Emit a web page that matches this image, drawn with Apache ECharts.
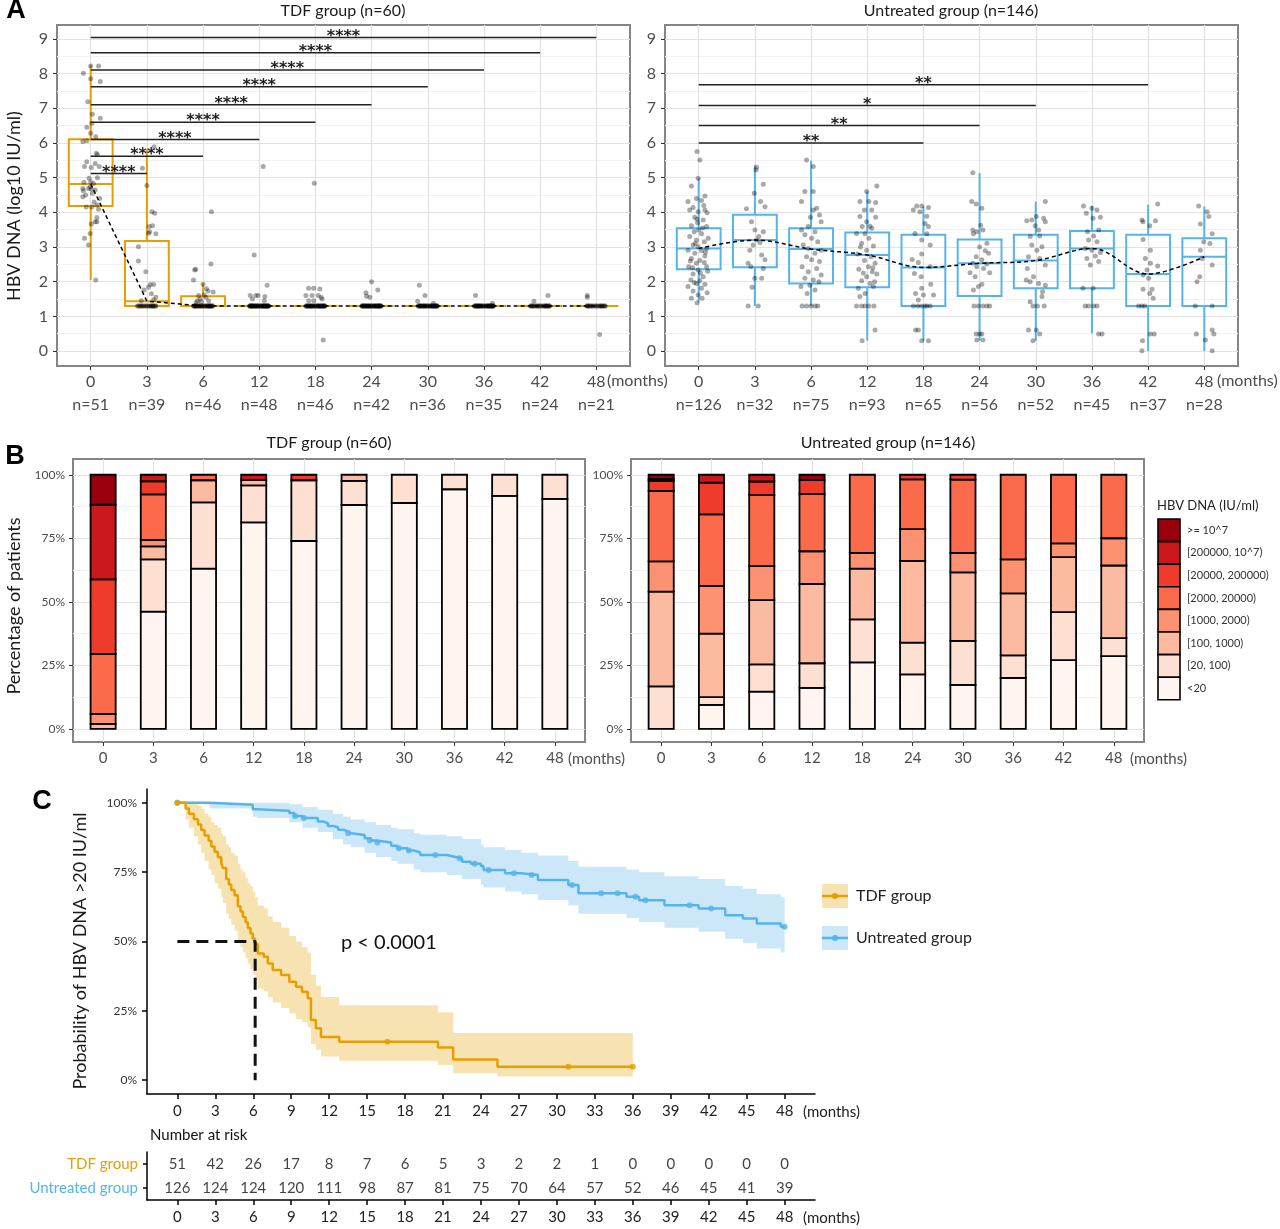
<!DOCTYPE html>
<html><head><meta charset="utf-8">
<script src="https://cdn.jsdelivr.net/npm/echarts@6/dist/echarts.min.js"></script>
<style>html,body{margin:0;padding:0;background:#fff}#c{width:1280px;height:1229px}</style>
</head><body><div id="c"></div>
<script>
// ---------------- DATA ----------------
const MONTHS = ['0','3','6','12','18','24','30','36','42','48'];
const CAT_TICKS = [0,1,2,3,4,5,6,7,8,9];
const TDF_N = [51,39,46,48,46,42,36,35,24,21];
const UNT_N = [126,32,75,93,65,56,52,45,37,28];
const Y_TICKS_A = [0,1,2,3,4,5,6,7,8,9];
const Y_MINOR_A = [0.5,1.5,2.5,3.5,4.5,5.5,6.5,7.5,8.5];
const PCT_TICKS = [0,25,50,75,100];
const PCT_MINOR = [12.5,37.5,62.5,87.5];
const KM_TICKS = [0,3,6,9,12,15,18,21,24,27,30,33,36,39,42,45,48];

// box stats: [low whisker, Q1, median, Q3, high whisker] (log10 IU/ml)
const TDF_BOX = [[2.05,4.18,4.82,6.11,8.25],[1.3,1.3,1.44,3.17,5.8],[1.3,1.3,1.3,1.58,1.95],[1.3,1.3,1.3,1.3,1.3],[1.3,1.3,1.3,1.3,1.3],[1.3,1.3,1.3,1.3,1.3],[1.3,1.3,1.3,1.3,1.3],[1.3,1.3,1.3,1.3,1.3],[1.3,1.3,1.3,1.3,1.3],[1.3,1.3,1.3,1.3,1.3]];
const UNT_BOX = [[1.42,2.36,2.96,3.54,4.99],[1.3,2.42,3.2,3.93,5.35],[1.3,1.95,2.94,3.54,5.49],[0.3,1.84,2.77,3.42,4.6],[0.3,1.3,2.41,3.35,4.17],[0.3,1.59,2.53,3.22,5.13],[0.3,1.81,2.61,3.35,4.31],[0.51,1.81,2.96,3.46,4.19],[0,1.3,2.22,3.35,4.22],[0,1.3,2.72,3.25,4.17]];

// jittered individual points per visit: [x offset, log10 value]
const TDF_PTS = [
 [[0,8.22],[0.14,8.22],[-0.13,8.01],[0,7.85],[0.17,7.77],[-0.05,7.19],[0.03,6.83],[0.17,6.71],[0.02,6.57],[-0.07,6.45],[0,6.28],[0.09,6.18],[-0.07,6.06],[-0.14,6.04],[0.1,5.7],[0.12,5.66],[-0.07,5.46],[0.08,5.41],[-0.11,5.32],[0.15,5.32],[0.01,5.29],[0,4.88],[0.05,4.83],[-0.04,4.69],[-0.14,4.69],[0.01,4.67],[0.08,4.64],[-0.13,4.62],[-0.14,4.45],[-0.01,4.73],[0.11,4.21],[-0.08,4.15],[0.02,4.15],[0.14,4.09],[0.11,3.85],[0.08,3.73],[0.11,3.73],[0.01,3.66],[-0.01,3.39],[-0.11,3.25],[-0.04,3.06],[0.09,2.05],[0.03,4.55],[-0.09,4.5],[0.12,5.0],[-0.03,4.98],[0.06,4.3],[-0.12,4.87],[0.16,4.4]],
 [[0.13,5.89],[-0.08,5.27],[0,4.77],[0.09,4.02],[0.14,3.97],[0.04,3.59],[0.1,3.61],[0.05,3.44],[0.03,3.4],[0.16,3.38],[-0.15,3.01],[-0.15,2.6],[-0.02,2.29],[0.06,1.92],[0.12,1.92],[0.03,1.84],[-0.05,1.76],[0.08,1.65],[0.16,1.55],[-0.1,1.45],[0.12,1.48]],
 [[-0.15,2.34],[-0.13,2.36],[-0.17,2.05],[0.14,2.51],[0.15,4.02],[0,1.93],[0.09,1.73],[0.18,1.7],[-0.08,1.6],[-0.05,1.5],[0.05,1.55],[-0.1,1.45],[0.02,1.62],[-0.12,1.4],[0.1,1.45],[0.06,1.8],[-0.03,1.42]],
 [[0.07,5.32],[-0.09,2.77],[0.14,1.9],[-0.16,1.6],[-0.06,1.6],[-0.02,1.6],[0.1,1.57],[0.09,1.45],[-0.12,1.5]],
 [[-0.02,4.84],[0.14,0.32],[-0.12,1.81],[-0.03,1.81],[0.08,1.79],[-0.17,1.6],[-0.06,1.6],[0.05,1.6],[-0.03,1.45],[0.12,1.5],[-0.12,1.45],[0.1,1.55]],
 [[0,2.0],[-0.1,1.68],[-0.09,1.58],[-0.03,1.55],[0.11,1.76]],
 [[-0.15,1.9],[-0.05,1.6],[-0.18,1.44],[0.1,1.38]],
 [[-0.15,1.6],[0.15,1.38]],
 [[-0.11,1.44],[0.14,1.6]],
 [[-0.16,1.6],[-0.16,1.55],[0.06,0.48]]
];
// number of TDF points sitting at the detection limit (log10 20 = 1.3)
const TDF_LOD_COUNT = [0,18,29,39,34,37,32,33,22,19];
const LOD_VALUE = 1.3;
const LOD_JITTER = [-0.17,0.05,-0.09,0.13,-0.02,0.16,-0.13,0.08,-0.05,0.11,-0.15,0.02,0.15,-0.07,0.1,-0.11,0.0,0.07,-0.16,0.12,-0.04,0.17,-0.12,0.04,-0.08,0.14,-0.01,0.09,-0.14,0.06,-0.06,0.16,-0.1,0.03,-0.17,0.12,-0.03,0.08,-0.13,0.01];

const UNT_PTS = [
 [[-0.03,5.75],[0.02,5.51],[-0.01,4.98],[-0.13,4.76],[0.11,4.47],[-0.04,4.4],[-0.19,4.31],[0.05,4.34],[-0.1,4.14],[-0.16,4.07],[0.11,4.07],[-0.01,4.02],[0.15,3.99],[-0.07,3.86],[-0.03,3.8],[0.08,3.78],[-0.13,3.61],[0.14,3.59],[0,3.49],[-0.08,3.44],[0.05,3.38],[-0.16,3.3],[0.17,3.25],[-0.04,3.2],[0.1,3.15],[-0.1,3.06],[-0.01,3.01],[0.14,2.96],[-0.19,2.91],[0.05,2.89],[-0.07,2.82],[0.11,2.74],[-0.13,2.67],[0.02,2.61],[0.1,2.55],[-0.04,2.53],[-0.18,2.43],[0.14,2.43],[-0.01,2.34],[-0.1,2.22],[0.08,2.14],[-0.14,2.05],[0.02,2.03],[-0.04,1.95],[0.11,1.93],[-0.19,1.86],[0.05,1.81],[-0.1,1.73],[0.15,1.68],[-0.01,1.62],[-0.13,1.52],[0.06,1.52],[-0.03,1.39],[0.07,3.55],[-0.06,3.1],[0.12,2.85],[-0.15,2.6],[0.03,2.25],[-0.08,1.98],[0.16,2.3],[-0.02,3.7],[0.09,4.2],[-0.11,2.4]],
 [[0.03,5.3],[0.02,5.22],[0.15,4.81],[-0.01,4.55],[0.1,4.31],[-0.15,4.1],[0.18,4.16],[-0.06,3.73],[0.15,3.44],[0.03,3.2],[0.09,3.13],[-0.03,3.06],[0.12,2.77],[-0.12,2.53],[-0.07,2.43],[0.15,2.38],[0,2.1],[0.12,2.1],[-0.05,1.84],[-0.12,1.3],[0.06,1.3],[0,3.49],[0.07,3.3],[-0.09,2.91],[0.18,2.63]],
 [[-0.08,5.51],[0.04,5.32],[-0.11,4.6],[0.04,4.6],[-0.17,4.31],[0.1,4.12],[0.04,4.07],[0.15,3.92],[-0.01,3.86],[0.18,3.73],[-0.05,3.59],[-0.17,3.49],[0.07,3.44],[-0.11,3.35],[0.01,3.25],[0.12,3.15],[-0.14,3.06],[-0.05,2.96],[0.18,2.91],[0.07,2.82],[-0.08,2.72],[0.01,2.63],[0.15,2.58],[-0.16,2.43],[0.1,2.38],[-0.05,2.29],[0.18,2.19],[-0.11,2.1],[0.04,2.05],[0.14,2.0],[-0.02,1.9],[-0.18,1.86],[0.07,1.76],[-0.07,1.66],[-0.16,1.3],[-0.08,1.3],[0,1.3],[0.07,1.3],[0.12,1.3]],
 [[0.17,4.76],[-0.01,4.6],[-0.13,4.31],[0.03,4.31],[0.15,4.28],[-0.05,4.07],[0.08,4.07],[-0.13,3.88],[0.15,3.86],[-0.01,3.73],[-0.09,3.59],[0.08,3.54],[-0.19,3.39],[-0.04,3.38],[0.03,3.25],[-0.1,3.11],[0.11,3.03],[-0.01,2.91],[-0.17,2.8],[0.07,2.72],[-0.05,2.61],[0.14,2.53],[0.02,2.43],[-0.15,2.36],[0.09,2.29],[0.17,2.22],[-0.01,2.14],[-0.1,2.03],[0.05,1.95],[-0.16,1.81],[-0.04,1.66],[0.11,1.86],[-0.13,1.57],[-0.19,1.3],[-0.1,1.3],[-0.04,1.3],[0.03,1.3],[0.12,1.3],[0.14,0.61],[-0.09,0.3],[0.1,2.4],[-0.07,2.25],[0.13,2.0],[-0.12,3.0],[0.05,3.6]],
 [[-0.12,4.18],[-0.03,4.18],[0.09,4.14],[-0.18,4.07],[-0.06,4.02],[0.06,3.89],[0.03,3.68],[0.09,3.59],[-0.15,3.39],[0.06,3.38],[-0.03,3.2],[0.12,3.06],[-0.03,2.8],[-0.2,2.64],[-0.09,2.55],[0.12,2.43],[-0.16,2.24],[-0.04,2.14],[0.13,1.93],[-0.03,1.81],[-0.14,1.66],[0,1.62],[0.18,1.62],[-0.09,1.47],[-0.18,1.3],[-0.1,1.3],[-0.03,1.3],[0.06,1.3],[0.12,1.3],[0.03,1.3],[-0.14,0.61],[-0.09,0.61],[-0.03,0.3],[0.09,0.3]],
 [[-0.12,5.14],[-0.14,4.31],[-0.06,4.24],[0.04,4.12],[0.02,3.63],[-0.12,3.49],[-0.05,3.44],[0.06,3.49],[-0.11,3.38],[0.13,3.11],[0,3.0],[0.1,2.89],[0.16,2.82],[-0.06,2.72],[0.04,2.63],[-0.12,2.53],[0.13,2.51],[-0.05,2.43],[0.07,2.38],[-0.17,2.26],[0.18,2.26],[-0.08,2.14],[0.04,1.93],[-0.02,1.86],[-0.11,1.76],[-0.1,1.3],[-0.02,1.3],[0.06,1.3],[0.13,1.3],[0.18,1.3],[-0.06,0.49],[0,0.49],[0.04,0.49],[-0.05,0.32],[0.06,0.32]],
 [[0.17,4.31],[0.01,3.88],[-0.16,3.76],[-0.07,3.78],[0.14,3.83],[0.17,3.73],[-0.01,3.61],[0.05,3.49],[-0.1,3.3],[0.07,3.32],[-0.07,3.06],[0.11,3.01],[0.02,2.91],[-0.13,2.72],[0.07,2.67],[0.17,2.48],[-0.15,2.38],[-0.04,2.14],[-0.17,2.05],[-0.1,2.0],[0.05,1.95],[0.17,1.9],[0.12,1.71],[0.11,1.57],[-0.1,1.42],[-0.05,1.3],[0.03,1.3],[0.15,1.3],[-0.13,0.61],[0.01,0.61],[0.07,0.49],[-0.05,0.3]],
 [[-0.15,4.18],[0,4.12],[0.09,4.07],[-0.1,3.97],[0.15,3.86],[0.02,3.83],[0.12,3.49],[-0.08,3.44],[0.03,3.32],[-0.06,3.2],[0.09,3.15],[-0.12,2.96],[0,2.91],[0.15,2.84],[0.06,2.74],[-0.09,2.67],[0.12,2.58],[-0.03,2.48],[-0.16,1.81],[0.02,1.81],[-0.12,1.3],[-0.06,1.3],[0.03,1.3],[0.09,1.3],[0.12,0.49],[0.18,0.49]],
 [[0.17,4.24],[-0.11,3.78],[-0.09,3.73],[0.13,3.76],[0.03,3.61],[-0.09,3.22],[0.04,2.91],[-0.05,2.67],[0.04,2.53],[0.17,2.45],[-0.02,2.34],[-0.09,2.19],[0.01,2.1],[0.07,1.78],[-0.09,1.78],[0.03,1.66],[0.09,1.52],[-0.17,1.3],[-0.11,1.3],[-0.06,1.3],[0.04,0.49],[0.11,0.49],[-0.1,0.3],[-0.11,0.01]],
 [[-0.1,4.18],[0.05,4.02],[0.08,3.88],[-0.07,3.66],[0.14,3.38],[-0.01,3.15],[0.1,3.1],[-0.07,2.91],[-0.04,2.67],[0.14,2.48],[-0.08,2.14],[-0.13,2.0],[-0.16,1.3],[0.14,1.3],[-0.14,0.49],[0.14,0.61],[0.17,0.49],[0.02,0.32],[0.14,0.01]]
];

// significance brackets: [from visit index, to visit index, height]
const TDF_SIG = [[0,1,5.12],[0,2,5.62],[0,3,6.1],[0,4,6.6],[0,5,7.1],[0,6,7.62],[0,7,8.1],[0,8,8.6],[0,9,9.04]];
const TDF_SIG_LABEL = ['****','****','****','****','****','****','****','****','****'];
const UNT_SIG = [[0,4,6.0],[0,5,6.5],[0,6,7.08],[0,8,7.68]];
const UNT_SIG_LABEL = ['**','**','*','**'];

// Panel B: patient counts per HBV DNA level (bottom -> top), per visit
const LEVELS = ['<20','[20, 100)','[100, 1000)','[1000, 2000)','[2000, 20000)','[20000, 200000)','[200000, 10^7)','>= 10^7'];
const LEVEL_COLORS = ['#FFF5F0','#FEE0D2','#FCBBA1','#FC9272','#FB6A4A','#EF3B2C','#CB181D','#99000D'];
const TDF_LEVEL_COUNTS = [
 [0,18,29,39,34,37,32,33,22,19],
 [0,8,12,7,11,4,4,2,2,2],
 [1,2,4,1,0,1,0,0,0,0],
 [2,1,0,0,0,0,0,0,0,0],
 [12,7,1,0,0,0,0,0,0,0],
 [15,2,0,0,1,0,0,0,0,0],
 [15,1,0,1,0,0,0,0,0,0],
 [6,0,0,0,0,0,0,0,0,0]
];
const UNT_LEVEL_COUNTS = [
 [0,3,11,15,17,12,9,9,10,8],
 [21,1,8,9,11,7,9,4,7,2],
 [47,8,19,29,13,18,14,11,8,8],
 [15,6,10,12,4,7,4,6,2,3],
 [35,9,21,21,20,11,15,15,10,7],
 [5,4,4,5,0,1,1,0,0,0],
 [1,1,2,0,0,0,0,0,0,0],
 [2,0,0,2,0,0,0,0,0,0]
];

// Panel C: Kaplan-Meier steps [month, % with HBV DNA >20]
const TDF_KM = [[0,100],[0.65,98],[0.92,96.1],[1.31,94.1],[1.63,92.2],[1.89,90.2],[2.15,88.2],[2.47,86.3],[2.68,84.3],[2.94,82.4],[3.2,80.4],[3.47,78.4],[3.6,76.5],[3.86,72.5],[4.07,70.6],[4.26,68.6],[4.52,66.7],[4.78,62.7],[4.99,60.8],[5.18,58.8],[5.39,56.9],[5.57,54.9],[5.78,52.9],[5.96,51.0],[6.15,49.0],[6.36,45.7],[6.83,44.5],[7.15,42.1],[7.54,39.7],[8.2,37.9],[8.85,35.5],[9.38,33.7],[9.85,31.9],[10.3,29.5],[10.56,21.7],[10.95,18.7],[11.35,15.6],[12.8,13.8],[20.6,11.8],[21.8,7.4],[25.3,4.8],[36,4.8]];
const TDF_CENSOR = [[0,100],[16.6,13.8],[30.9,4.8],[36,4.8]];
// [month, lower CI, upper CI]
const TDF_CI = [[0,100,100],[0.65,94,100],[0.92,91,100],[1.31,88,100],[1.63,85,99],[1.89,82,98],[2.15,79,96],[2.47,76,95],[2.68,74,93],[2.94,71,92],[3.2,69,91],[3.47,66,89],[3.6,64,88],[3.86,60,85],[4.07,58,84],[4.26,56,82],[4.52,54,81],[4.78,50,78],[4.99,48,76],[5.18,46,75],[5.39,44,73],[5.57,42,71],[5.78,40,70],[5.96,38,68],[6.15,36,66],[6.36,33,63],[6.83,32,62],[7.15,30,59],[7.54,28,57],[8.2,26,55],[8.85,24,52],[9.38,22,50],[9.85,21,48],[10.3,19,46],[10.56,13,38],[10.95,11,34],[11.35,8.5,30],[12.8,7,27],[20.6,5.5,24.5],[21.8,2.5,17],[25.3,1.3,17],[36,1.3,17]];
const UNT_KM = [[0,100],[2.55,99.3],[5.96,97.7],[6.3,97.2],[8.85,96.3],[9.25,95.3],[9.9,94.5],[11.1,93.3],[11.5,92.7],[11.9,91.7],[12.3,91.2],[12.7,90.3],[13.1,89.7],[13.5,89.0],[13.7,88.4],[14.8,87.2],[15.3,86.4],[15.7,85.7],[16.9,84.5],[17.4,83.6],[18.2,82.8],[18.7,82.1],[19.2,81.2],[21.3,80.6],[21.9,80.0],[22.5,78.8],[23.2,78.0],[24.0,77.2],[24.2,75.8],[25.9,74.6],[27.2,74.0],[28.5,72.2],[30.9,70.4],[31.7,67.4],[35.5,66.1],[36.5,64.9],[38.5,63.1],[41.2,61.9],[43.3,59.5],[44.7,58.3],[45.8,56.5],[47.7,55.3],[48,55.3]];
const UNT_CENSOR = [[0,100],[9.3,95.3],[10.0,94.5],[13.5,89.0],[15.2,86.4],[15.8,85.7],[17.5,83.6],[18.3,82.8],[20.4,81.2],[22.3,80.0],[23.5,78.0],[24.6,75.8],[26.6,74.6],[28.0,74.0],[31.2,70.4],[33.5,67.4],[34.8,67.4],[36.2,66.1],[37.0,64.9],[40.5,63.1],[42.2,61.9],[48,55.3]];
const UNT_CI = [[0,100,100],[2.55,98,100],[5.96,95,100],[6.3,94.5,100],[8.85,93,99.5],[9.9,91,98.5],[11.1,89.5,97.5],[12.3,87,96],[13.1,85,95],[13.7,84,94],[14.8,82,93],[15.7,80.5,92],[16.9,79,91],[17.4,78,90.5],[18.7,76,89],[19.2,75,88.5],[21.3,74,88],[22.5,72.5,87],[24.0,70.5,85],[24.2,69.5,84],[25.9,68,83],[27.2,67,82],[28.5,65,81],[30.9,63,79],[31.7,60,77],[35.5,58.5,76],[36.5,57,75],[38.5,55,73.5],[41.2,53.5,72.5],[43.3,51,70],[44.7,49.5,69],[45.8,47.5,67],[47.7,46,66],[48,46,66]];
const TDF_MEDIAN_TIME = 6.15;
const RISK_TDF = [51,42,26,17,8,7,6,5,3,2,2,1,0,0,0,0,0];
const RISK_UNT = [126,124,124,120,111,98,87,81,75,70,64,57,52,46,45,41,39];
const RISK_ROWS = ['Untreated group','TDF group'];

// ---------------- STYLE ----------------
const FONT = 'Lato, "Open Sans", sans-serif';
const ORANGE = '#E69F00', BLUE = '#56B4E9';
const ORANGE_BAND = 'rgba(230,159,0,0.3)', BLUE_BAND = 'rgba(86,180,233,0.3)';
const GRID_MAJOR = '#e2e2e2', GRID_MINOR = '#f1f1f1', FRAME = '#858585', AXT = '#4d4d4d';
const PT_COLOR = 'rgba(0,0,0,0.42)';

const chart = echarts.init(document.getElementById('c'), null, {renderer: 'canvas'});

function ptsData(pts, lodCount) {
  const out = [];
  pts.forEach((arr, i) => {
    arr.forEach(p => out.push([i + p[0], p[1]]));
    if (lodCount) LOD_JITTER.slice(0, lodCount[i]).forEach(dx => out.push([i + dx, LOD_VALUE]));
  });
  return out;
}
function boxRenderer(color) {
  return function (params, api) {
    const x = api.value(0);
    const lo = api.coord([x, api.value(1)]), q1 = api.coord([x, api.value(2)]),
          md = api.coord([x, api.value(3)]), q3 = api.coord([x, api.value(4)]), hi = api.coord([x, api.value(5)]);
    const hw = api.size([0.39, 0])[0];
    const cx = lo[0];
    const st = {stroke: color, lineWidth: 2};
    return {type: 'group', children: [
      {type: 'line', shape: {x1: cx, y1: hi[1], x2: cx, y2: q3[1]}, style: st},
      {type: 'line', shape: {x1: cx, y1: q1[1], x2: cx, y2: lo[1]}, style: st},
      {type: 'rect', shape: {x: cx - hw, y: q3[1], width: 2 * hw, height: q1[1] - q3[1]}, style: {stroke: color, lineWidth: 2, fill: 'none'}},
      {type: 'line', shape: {x1: cx - hw, y1: md[1], x2: cx + hw, y2: md[1]}, style: st}
    ]};
  };
}
function sigRenderer(labels) {
  return function (params, api) {
    const a = api.coord([api.value(0), api.value(2)]);
    const b = api.coord([api.value(1), api.value(2)]);
    return {type: 'group', children: [
      {type: 'line', shape: {x1: a[0], y1: a[1], x2: b[0], y2: b[1]}, style: {stroke: '#222', lineWidth: 1.5}},
      {type: 'text', x: (a[0] + b[0]) / 2, y: a[1] - 1, style: {text: labels[params.dataIndex], textAlign: 'center', textVerticalAlign: 'middle', fontSize: 16, fontWeight: 'bold', fontFamily: '"DejaVu Sans", sans-serif', fill: '#222'}}
    ]};
  };
}
function stackData(levels) {
  const out = [];
  for (let i = 0; i < levels[0].length; i++) {
    let n = 0; levels.forEach(l => n += l[i]);
    let c = 0;
    for (let k = 0; k < levels.length; k++) {
      const v = levels[k][i];
      if (v > 0) { out.push([i, c / n * 100, (c + v) / n * 100, k]); c += v; }
    }
  }
  return out;
}
function stackRenderer(params, api) {
  const x = api.value(0), y0 = api.value(1), y1 = api.value(2), lvl = api.value(3);
  const p0 = api.coord([x - 0.25, y1]), p1 = api.coord([x + 0.25, y0]);
  return {type: 'rect', shape: {x: p0[0], y: p0[1], width: p1[0] - p0[0], height: p1[1] - p0[1]},
          style: {fill: LEVEL_COLORS[lvl], stroke: '#000', lineWidth: 1.8}};
}
function bandRenderer(ci, color) {
  return function (params, api) {
    if (params.dataIndex !== 0) return;
    const pts = [];
    for (let i = 0; i < ci.length; i++) {
      pts.push(api.coord([ci[i][0], ci[i][2]]));
      if (i < ci.length - 1) pts.push(api.coord([ci[i + 1][0], ci[i][2]]));
    }
    for (let i = ci.length - 1; i >= 0; i--) {
      if (i < ci.length - 1) pts.push(api.coord([ci[i + 1][0], ci[i][1]]));
      pts.push(api.coord([ci[i][0], ci[i][1]]));
    }
    return {type: 'polygon', shape: {points: pts}, style: {fill: color}};
  };
}

const frameGrid = (left, top, width, height) => ({left, top, width, height, show: true, borderColor: FRAME, borderWidth: 2, backgroundColor: '#fff', containLabel: false, outerBoundsMode: 'none'});
const plainGrid = (left, top, width, height) => ({left, top, width, height, show: false, containLabel: false, outerBoundsMode: 'none'});

function catXAxis(gridIndex, nArr, fontSize, margin) {
  return {type: 'value', gridIndex, min: -0.6, max: 9.6,
    axisLine: {show: false, onZero: false},
    axisTick: {show: true, customValues: CAT_TICKS, length: 4, lineStyle: {color: '#333', width: 1}},
    axisLabel: {customValues: CAT_TICKS, color: AXT, fontSize, fontFamily: FONT, margin, lineHeight: nArr ? 23 : undefined,
      formatter: v => nArr ? MONTHS[v] + '\n' + 'n=' + nArr[v] : MONTHS[v]},
    splitLine: {show: true, lineStyle: {color: GRID_MAJOR, width: 1.2}}};
}
function valYAxis(gridIndex, min, max, ticks, fmt, fontSize, margin) {
  return {type: 'value', gridIndex, min, max,
    axisLine: {show: false, onZero: false},
    axisTick: {show: true, customValues: ticks, length: 4, lineStyle: {color: '#333', width: 1}},
    axisLabel: {customValues: ticks, color: AXT, fontSize, fontFamily: FONT, margin, formatter: fmt},
    splitLine: {show: true, lineStyle: {color: GRID_MAJOR, width: 1.2}}};
}
function minorYAxis(gridIndex, min, max, ticks) {
  return {type: 'value', gridIndex, min, max, position: 'left',
    axisLine: {show: false, onZero: false}, axisLabel: {show: false},
    axisTick: {show: false, customValues: ticks},
    splitLine: {show: true, lineStyle: {color: GRID_MINOR, width: 1}}};
}

const option = {
  animation: false,
  backgroundColor: '#fff',
  textStyle: {fontFamily: FONT},
  grid: [
    frameGrid(57, 25, 573, 341),
    frameGrid(665, 25, 573, 341),
    frameGrid(73, 459, 512, 283),
    frameGrid(631, 459, 513, 283),
    plainGrid(147, 789, 668, 305),
    plainGrid(147, 1152, 668, 48)
  ],
  xAxis: [
    catXAxis(0, TDF_N, 16, 4),
    catXAxis(1, UNT_N, 16, 4),
    catXAxis(2, null, 15, 9),
    catXAxis(3, null, 15, 9),
    {type: 'value', gridIndex: 4, min: -2.4, max: 50.4,
      axisLine: {show: true, onZero: false, lineStyle: {color: '#000', width: 1.5}},
      axisTick: {show: true, customValues: KM_TICKS, length: 5, lineStyle: {color: '#000', width: 1.5}},
      axisLabel: {customValues: KM_TICKS, color: '#222', fontSize: 15, fontFamily: FONT, margin: 10},
      splitLine: {show: false}},
    {type: 'value', gridIndex: 5, min: -2.4, max: 50.4,
      axisLine: {show: true, onZero: false, lineStyle: {color: '#000', width: 1.5}},
      axisTick: {show: true, customValues: KM_TICKS, length: 5, lineStyle: {color: '#000', width: 1.5}},
      axisLabel: {customValues: KM_TICKS, color: '#222', fontSize: 15, fontFamily: FONT, margin: 10},
      splitLine: {show: false}}
  ],
  yAxis: [
    valYAxis(0, -0.43, 9.4, Y_TICKS_A, v => String(v), 16, 9),
    minorYAxis(0, -0.43, 9.4, Y_MINOR_A),
    valYAxis(1, -0.43, 9.4, Y_TICKS_A, v => String(v), 16, 9),
    minorYAxis(1, -0.43, 9.4, Y_MINOR_A),
    valYAxis(2, -5.2, 106.2, PCT_TICKS, v => v + '%', 12, 8),
    minorYAxis(2, -5.2, 106.2, PCT_MINOR),
    valYAxis(3, -5.2, 106.2, PCT_TICKS, v => v + '%', 12, 8),
    minorYAxis(3, -5.2, 106.2, PCT_MINOR),
    {type: 'value', gridIndex: 4, min: -5, max: 105,
      axisLine: {show: true, onZero: false, lineStyle: {color: '#000', width: 1.5}},
      axisTick: {show: true, customValues: PCT_TICKS, length: 5, lineStyle: {color: '#000', width: 1.5}},
      axisLabel: {customValues: PCT_TICKS, color: '#333', fontSize: 12, fontFamily: FONT, margin: 10, formatter: v => v + '%'},
      splitLine: {show: false}},
    {type: 'category', gridIndex: 5, data: RISK_ROWS,
      axisLine: {show: true, onZero: false, lineStyle: {color: '#000', width: 1.5}},
      axisTick: {show: true, alignWithLabel: true, length: 4, lineStyle: {color: '#000', width: 1.5}},
      axisLabel: {fontSize: 15, fontFamily: FONT, margin: 9,
        formatter: v => v === 'TDF group' ? '{t|' + v + '}' : '{u|' + v + '}',
        rich: {t: {color: ORANGE, fontSize: 15, fontFamily: FONT}, u: {color: BLUE, fontSize: 15, fontFamily: FONT}}},
      splitLine: {show: false}}
  ],
  series: [
    // ---- Panel A left
    {type: 'custom', xAxisIndex: 0, yAxisIndex: 0, z: 2, renderItem: boxRenderer(ORANGE),
      data: TDF_BOX.map((b, i) => [i].concat(b)), encode: {x: 0, y: [1, 2, 3, 4, 5]}},
    {type: 'scatter', xAxisIndex: 0, yAxisIndex: 0, z: 3, symbolSize: 5, itemStyle: {color: PT_COLOR},
      data: ptsData(TDF_PTS, TDF_LOD_COUNT)},
    {type: 'line', xAxisIndex: 0, yAxisIndex: 0, z: 4, symbol: 'none',
      lineStyle: {color: '#000', width: 1.5, type: [4, 3]}, data: TDF_BOX.map((b, i) => [i, b[2]])},
    {type: 'custom', xAxisIndex: 0, yAxisIndex: 0, z: 5, renderItem: sigRenderer(TDF_SIG_LABEL),
      data: TDF_SIG, encode: {x: [0, 1], y: 2}},
    // ---- Panel A right
    {type: 'custom', xAxisIndex: 1, yAxisIndex: 2, z: 2, renderItem: boxRenderer(BLUE),
      data: UNT_BOX.map((b, i) => [i].concat(b)), encode: {x: 0, y: [1, 2, 3, 4, 5]}},
    {type: 'scatter', xAxisIndex: 1, yAxisIndex: 2, z: 3, symbolSize: 5, itemStyle: {color: PT_COLOR},
      data: ptsData(UNT_PTS, null)},
    {type: 'line', xAxisIndex: 1, yAxisIndex: 2, z: 4, symbol: 'none', smooth: 0.35,
      lineStyle: {color: '#000', width: 1.5, type: [4, 3]}, data: UNT_BOX.map((b, i) => [i, b[2]])},
    {type: 'custom', xAxisIndex: 1, yAxisIndex: 2, z: 5, renderItem: sigRenderer(UNT_SIG_LABEL),
      data: UNT_SIG, encode: {x: [0, 1], y: 2}},
    // ---- Panel B
    {type: 'custom', xAxisIndex: 2, yAxisIndex: 4, z: 3, renderItem: stackRenderer,
      data: stackData(TDF_LEVEL_COUNTS), encode: {x: 0, y: [1, 2]}},
    {type: 'custom', xAxisIndex: 3, yAxisIndex: 6, z: 3, renderItem: stackRenderer,
      data: stackData(UNT_LEVEL_COUNTS), encode: {x: 0, y: [1, 2]}},
    // ---- Panel C
    {type: 'custom', xAxisIndex: 4, yAxisIndex: 8, z: 1, renderItem: bandRenderer(UNT_CI, BLUE_BAND),
      data: UNT_CI, encode: {x: 0, y: [1, 2]}},
    {type: 'custom', xAxisIndex: 4, yAxisIndex: 8, z: 1, renderItem: bandRenderer(TDF_CI, ORANGE_BAND),
      data: TDF_CI, encode: {x: 0, y: [1, 2]}},
    {type: 'line', xAxisIndex: 4, yAxisIndex: 8, z: 3, step: 'end', symbol: 'none',
      lineStyle: {color: BLUE, width: 2.5}, data: UNT_KM},
    {type: 'line', xAxisIndex: 4, yAxisIndex: 8, z: 3, step: 'end', symbol: 'none',
      lineStyle: {color: ORANGE, width: 2.5}, data: TDF_KM},
    {type: 'scatter', xAxisIndex: 4, yAxisIndex: 8, z: 4, symbolSize: 6, itemStyle: {color: BLUE}, data: UNT_CENSOR},
    {type: 'scatter', xAxisIndex: 4, yAxisIndex: 8, z: 4, symbolSize: 6, itemStyle: {color: ORANGE}, data: TDF_CENSOR},
    {type: 'line', xAxisIndex: 4, yAxisIndex: 8, z: 5, symbol: 'none',
      lineStyle: {color: '#111', width: 3, type: [12, 7]},
      data: [[0, 50], [TDF_MEDIAN_TIME, 50], [TDF_MEDIAN_TIME, 0]]},
    // ---- Risk table
    {type: 'scatter', xAxisIndex: 5, yAxisIndex: 9, symbolSize: 1, itemStyle: {color: 'rgba(0,0,0,0)'},
      label: {show: true, position: 'inside', formatter: p => String(p.value[2]), fontSize: 15, fontFamily: FONT, color: '#111'},
      data: RISK_TDF.map((v, i) => [KM_TICKS[i], 1, v]).concat(RISK_UNT.map((v, i) => [KM_TICKS[i], 0, v]))}
  ],
  graphic: []
};

const G = option.graphic;
function txt(x, y, text, o) {
  G.push({type: 'text', x, y, rotation: o.rot || 0, z: 10,
    style: {text, fontSize: o.size || 15, fontFamily: o.font || FONT, fontWeight: o.weight || 'normal',
      fill: o.color || '#1a1a1a', textAlign: o.align || 'left', textVerticalAlign: 'middle'}});
}
// panel letters
txt(16, 11, 'A', {size: 27, weight: 'bold', font: '"Liberation Sans", Arial, sans-serif', color: '#000', align: 'center'});
txt(15, 457, 'B', {size: 27, weight: 'bold', font: '"Liberation Sans", Arial, sans-serif', color: '#000', align: 'center'});
txt(42, 802, 'C', {size: 27, weight: 'bold', font: '"Liberation Sans", Arial, sans-serif', color: '#000', align: 'center'});
// panel titles
txt(343, 11, 'TDF group (n=60)', {size: 16, align: 'center'});
txt(951, 11, 'Untreated group (n=146)', {size: 16, align: 'center'});
txt(329, 443, 'TDF group (n=60)', {size: 16, align: 'center'});
txt(888, 443, 'Untreated group (n=146)', {size: 16, align: 'center'});
// axis titles
txt(14, 206, 'HBV DNA (log10 IU/ml)', {size: 18, align: 'center', rot: Math.PI / 2});
txt(14, 606, 'Percentage of patients', {size: 18, align: 'center', rot: Math.PI / 2});
txt(80, 951, 'Probability of HBV DNA >20 IU/ml', {size: 18, align: 'center', rot: Math.PI / 2});
// unit labels
txt(607, 381, '(months)', {size: 16, color: AXT});
txt(1217, 381, '(months)', {size: 16, color: AXT});
txt(568, 759, '(months)', {size: 15, color: AXT});
txt(1130, 759, '(months)', {size: 15, color: AXT});
txt(803, 1112, '(months)', {size: 15, color: '#222'});
txt(803, 1218, '(months)', {size: 15, color: '#222'});
// p-value and risk table header
txt(341, 943, 'p < 0.0001', {size: 20, color: '#111'});
txt(150, 1135, 'Number at risk', {size: 15, color: '#111'});
// Panel B legend
txt(1157, 506, 'HBV DNA (IU/ml)', {size: 13, color: '#222'});
for (let k = 0; k < LEVELS.length; k++) {
  const lvl = LEVELS.length - 1 - k;
  const y = 519 + k * 22.6;
  G.push({type: 'rect', z: 10, shape: {x: 1158, y, width: 22, height: 22.6}, style: {fill: LEVEL_COLORS[lvl], stroke: '#000', lineWidth: 1.6}});
  txt(1187, y + 11.3, LEVELS[lvl], {size: 11, color: '#333'});
}
// Panel C legend
[[ORANGE, ORANGE_BAND, 'TDF group', 896], [BLUE, BLUE_BAND, 'Untreated group', 938]].forEach(([c, b, t, y]) => {
  G.push({type: 'rect', z: 10, shape: {x: 822, y: y - 12, width: 26, height: 24}, style: {fill: b}});
  G.push({type: 'line', z: 11, shape: {x1: 822, y1: y, x2: 848, y2: y}, style: {stroke: c, lineWidth: 2.5}});
  G.push({type: 'circle', z: 12, shape: {cx: 835, cy: y, r: 3}, style: {fill: c}});
  txt(856, y, t, {size: 16, color: '#222'});
});

chart.setOption(option);
</script></body></html>
